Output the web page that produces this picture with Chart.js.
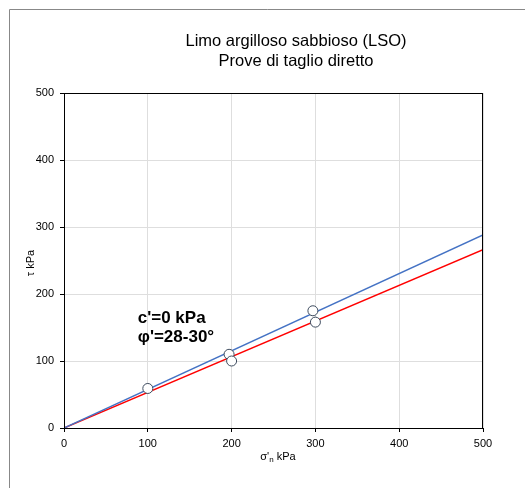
<!DOCTYPE html>
<html lang="it">
<head>
  <meta charset="UTF-8" />
  <title>Limo argilloso sabbioso (LSO)</title>
  <script src="https://cdn.jsdelivr.net/npm/chart.js"></script>
  <style>
    html, body { margin: 0; padding: 0; background: #fff; }
    #wrap { width: 525px; height: 488px; }
  </style>
</head>
<body>
  <div id="wrap"><canvas id="taglio" width="525" height="488"></canvas></div>

  <script>
    // prove di taglio diretto: sigma'n (kPa) e tau (kPa)
    const sigmaN = [100, 197, 200, 297, 300];
    const tau = [59, 110, 100, 175, 158];

    // inviluppi di rottura (c'=0)
    const lineX = [0, 500];
    const tauPhi30 = [0, 288];
    const tauPhi28 = [0, 266];

    const axisTicks = [0, 100, 200, 300, 400, 500];
    const titleLines = ['Limo argilloso sabbioso (LSO)', 'Prove di taglio diretto'];
    const noteLines = ["c'=0 kPa", "φ'=28-30°"];

    const FONT = 'Arial, "Liberation Sans", sans-serif';

    const extras = {
      id: 'extras',
      afterDraw(chart) {
        const { ctx, chartArea: a, scales } = chart;
        ctx.save();
        // cornice esterna
        ctx.strokeStyle = '#888';
        ctx.lineWidth = 1;
        ctx.beginPath();
        ctx.moveTo(9.5, 488);
        ctx.lineTo(9.5, 9.5);
        ctx.lineTo(525, 9.5);
        ctx.stroke();
        // bordo area grafico
        ctx.strokeStyle = '#000';
        ctx.strokeRect(a.left + 0.5, a.top + 0.5, a.right - a.left - 1, a.bottom - a.top);

        ctx.fillStyle = '#000';
        ctx.textAlign = 'center';
        ctx.textBaseline = 'middle';
        ctx.font = '16.5px ' + FONT;
        ctx.fillText(titleLines[0], 296, 41);
        ctx.fillText(titleLines[1], 296, 61);

        // titolo asse x con pedice
        const p1 = "σ'", p3 = ' kPa';
        ctx.font = '8px ' + FONT;
        const wn = ctx.measureText('n').width;
        ctx.font = '11px ' + FONT;
        const w1 = ctx.measureText(p1).width, w3 = ctx.measureText(p3).width;
        const x = 278 - (w1 + wn + w3) / 2;
        ctx.textAlign = 'left';
        ctx.fillText(p1, x, 457);
        ctx.font = '8px ' + FONT;
        ctx.fillText('n', x + w1, 460);
        ctx.font = '11px ' + FONT;
        ctx.fillText(p3, x + w1 + wn, 457);

        // titolo asse y
        ctx.save();
        ctx.translate(31, 263);
        ctx.rotate(-Math.PI / 2);
        ctx.textAlign = 'center';
        ctx.fillText('τ kPa', 0, 0);
        ctx.restore();

        // annotazione
        ctx.font = 'bold 17px ' + FONT;
        ctx.textAlign = 'left';
        const nx = scales.x.getPixelForValue(88);
        ctx.fillText(noteLines[0], nx, scales.y.getPixelForValue(164));
        ctx.fillText(noteLines[1], nx, scales.y.getPixelForValue(136));
        ctx.restore();
      }
    };

    const toXY = (xs, ys) => xs.map((v, i) => ({ x: v, y: ys[i] }));

    new Chart(document.getElementById('taglio'), {
      type: 'scatter',
      data: {
        datasets: [
          {
            label: 'Prove',
            data: toXY(sigmaN, tau),
            pointRadius: 5,
            pointBackgroundColor: '#fff',
            pointBorderColor: '#3d4b5e',
            pointBorderWidth: 1,
            showLine: false
          },
          {
            label: "φ'=30°",
            data: toXY(lineX, tauPhi30),
            showLine: true,
            borderColor: '#4472c4',
            borderWidth: 1.5,
            pointRadius: 0
          },
          {
            label: "φ'=28°",
            data: toXY(lineX, tauPhi28),
            showLine: true,
            borderColor: '#ff0000',
            borderWidth: 1.5,
            pointRadius: 0
          }
        ]
      },
      options: {
        responsive: false,
        animation: false,
        layout: { padding: { left: 0, top: 93, right: 42, bottom: 0 } },
        plugins: { legend: { display: false }, tooltip: { enabled: false } },
        scales: {
          x: {
            min: 0, max: 500,
            afterBuildTicks: s => { s.ticks = axisTicks.map(v => ({ value: v })); },
            afterFit: s => { s.height = 60; },
            grid: { color: '#dedede', tickColor: '#000', tickLength: 4 },
            border: { color: '#000', width: 1 },
            ticks: { color: '#000', font: { family: FONT, size: 11 }, padding: 5, maxRotation: 0 }
          },
          y: {
            min: 0, max: 500,
            afterBuildTicks: s => { s.ticks = axisTicks.map(v => ({ value: v })); },
            afterFit: s => { s.width = 64; },
            grid: { color: '#dedede', tickColor: '#000', tickLength: 4 },
            border: { color: '#000', width: 1 },
            ticks: { color: '#000', font: { family: FONT, size: 11 }, padding: 6 }
          }
        }
      },
      plugins: [extras]
    });
  </script>
</body>
</html>
